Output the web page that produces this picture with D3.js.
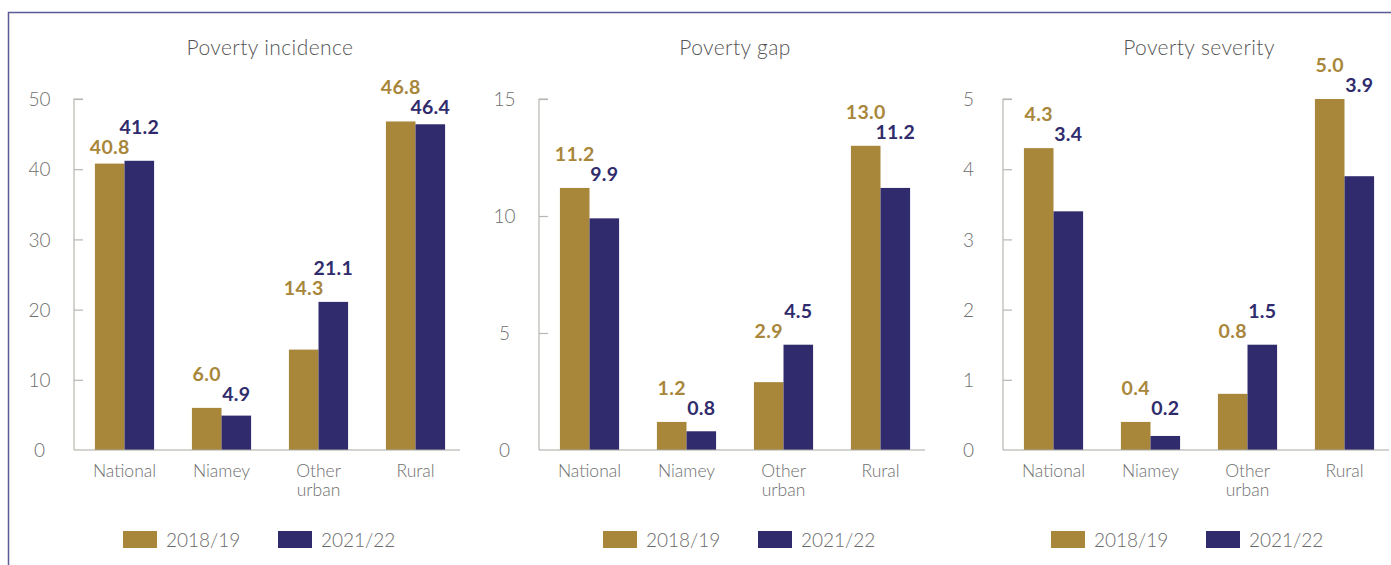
<!DOCTYPE html>
<html>
<head>
<meta charset="utf-8">
<script src="https://cdn.jsdelivr.net/npm/d3@7"></script>
<style>
  html, body { margin: 0; padding: 0; background: #fff; }
  svg { display: block; font-family: "Lato", "Open Sans", sans-serif; }
</style>
</head>
<body>
<svg id="chart" width="1391" height="565"></svg>
<script>
// Categories and series shared by the three panels
const categories = ["National", "Niamey", "Other urban", "Rural"];
const seriesNames = ["2018/19", "2021/22"];

// Poverty incidence (%)
const incidence2018 = [40.8, 6.0, 14.3, 46.8];
const incidence2021 = [41.2, 4.9, 21.1, 46.4];
const incidenceTicks = [0, 10, 20, 30, 40, 50];

// Poverty gap
const gap2018 = [11.2, 1.2, 2.9, 13.0];
const gap2021 = [9.9, 0.8, 4.5, 11.2];
const gapTicks = [0, 5, 10, 15];

// Poverty severity
const severity2018 = [4.3, 0.4, 0.8, 5.0];
const severity2021 = [3.4, 0.2, 1.5, 3.9];
const severityTicks = [0, 1, 2, 3, 4, 5];

const colors = { "2018/19": "#a8863a", "2021/22": "#302b6c" };

const panels = [
  { title: "Poverty incidence", a: incidence2018, b: incidence2021, ticks: incidenceTicks, ax: 74, legendX: 49 },
  { title: "Poverty gap", a: gap2018, b: gap2021, ticks: gapTicks, ax: 539, legendX: 64 },
  { title: "Poverty severity", a: severity2018, b: severity2021, ticks: severityTicks, ax: 1003, legendX: 48 }
];

const svg = d3.select("#chart");

// Frame
svg.append("path")
  .attr("d", "M8.5,565 L8.5,12.5 L1391,12.5")
  .attr("fill", "none")
  .attr("stroke", "#5d5a98")
  .attr("stroke-width", 1.5);

const yTop = 99, yBottom = 450, axisLen = 386;

panels.forEach(p => {
  const g = svg.append("g");
  const maxTick = d3.max(p.ticks);
  const y = d3.scaleLinear().domain([0, maxTick]).range([yBottom, yTop]);
  const x0 = d3.scaleBand().domain(categories)
    .range([p.ax + 2, p.ax + 390]).paddingInner(0.39).paddingOuter(0.195);
  const x1 = d3.scaleBand().domain(seriesNames).range([0, x0.bandwidth()]);

  // Title
  g.append("text")
    .attr("x", p.ax + 196).attr("y", 55)
    .attr("text-anchor", "middle")
    .attr("font-size", 21).attr("font-weight", 300)
    .attr("letter-spacing", 0.4)
    .attr("fill", "#555")
    .text(p.title);

  // Y axis
  const yAxis = d3.axisRight(y).tickValues(p.ticks).tickSize(9).tickFormat(d3.format("d"));
  const ya = g.append("g").attr("transform", `translate(${p.ax},0)`).call(yAxis);
  ya.select(".domain").attr("stroke", "#b8b6b0").attr("stroke-width", 1.2)
    .attr("d", `M9,${yTop}H0V${yBottom}`);
  ya.selectAll(".tick line").attr("stroke", "#b8b6b0").attr("stroke-width", 1.2);
  ya.selectAll(".tick").filter(d => d === 0).select("line").remove();
  ya.selectAll(".tick text")
    .attr("x", -34.5).attr("dy", "0.35em")
    .attr("text-anchor", "middle")
    .attr("font-size", 19).attr("font-weight", 300)
    .attr("font-family", "Lato, sans-serif")
    .attr("fill", "#6e6e6e");

  // Bars
  const rows = categories.map((c, i) => ({ cat: c, vals: [
    { s: seriesNames[0], v: p.a[i] }, { s: seriesNames[1], v: p.b[i] }
  ]}));

  const grp = g.selectAll(".grp").data(rows).join("g")
    .attr("transform", d => `translate(${x0(d.cat)},0)`);

  grp.selectAll("rect").data(d => d.vals).join("rect")
    .attr("x", d => x1(d.s))
    .attr("width", x1.bandwidth())
    .attr("y", d => y(d.v))
    .attr("height", d => y(0) - y(d.v))
    .attr("fill", d => colors[d.s]);

  // Value labels: the larger value sits on top, the other one line below
  grp.each(function(d) {
    const top = d3.max(d.vals, v => v.v);
    const order = d.vals.slice().sort((m, n) => n.v - m.v);
    const base = y(top) - 27;
    order.forEach((v, k) => {
      d3.select(this).append("text")
        .attr("x", x1(v.s) + x1.bandwidth() / 2)
        .attr("y", base + k * 20)
        .attr("text-anchor", "middle")
        .attr("font-size", 19.5).attr("font-weight", 700)
        .attr("letter-spacing", 0.3)
        .attr("fill", colors[v.s])
        .text(d3.format(".1f")(v.v));
    });
  });

  // Baseline
  g.append("line")
    .attr("x1", p.ax).attr("x2", p.ax + axisLen)
    .attr("y1", yBottom).attr("y2", yBottom)
    .attr("stroke", "#a8a7a2").attr("stroke-width", 1.2);

  // Category labels (multi-word names wrap onto a second line)
  const xa = g.append("g");
  categories.forEach(c => {
    const words = c.split(" ");
    const cx = x0(c) + x0.bandwidth() / 2;
    words.forEach((w, k) => {
      xa.append("text")
        .attr("x", cx)
        .attr("y", 477 + k * 19)
        .attr("text-anchor", "middle")
        .attr("font-size", 17.5).attr("font-weight", 300)
        .attr("fill", "#6e6e6e")
        .text(w);
    });
  });

  // Legend
  const lg = g.append("g").attr("transform", `translate(${p.ax + p.legendX},531)`);
  seriesNames.forEach((s, k) => {
    const item = lg.append("g").attr("transform", `translate(${k * 155},0)`);
    item.append("rect").attr("width", 34).attr("height", 17).attr("fill", colors[s]);
    item.append("text")
      .attr("x", 43).attr("y", 15.5)
      .attr("font-size", 19).attr("font-weight", 300)
      .attr("fill", "#6a6a6a")
      .text(s);
  });
});
</script>
</body>
</html>
